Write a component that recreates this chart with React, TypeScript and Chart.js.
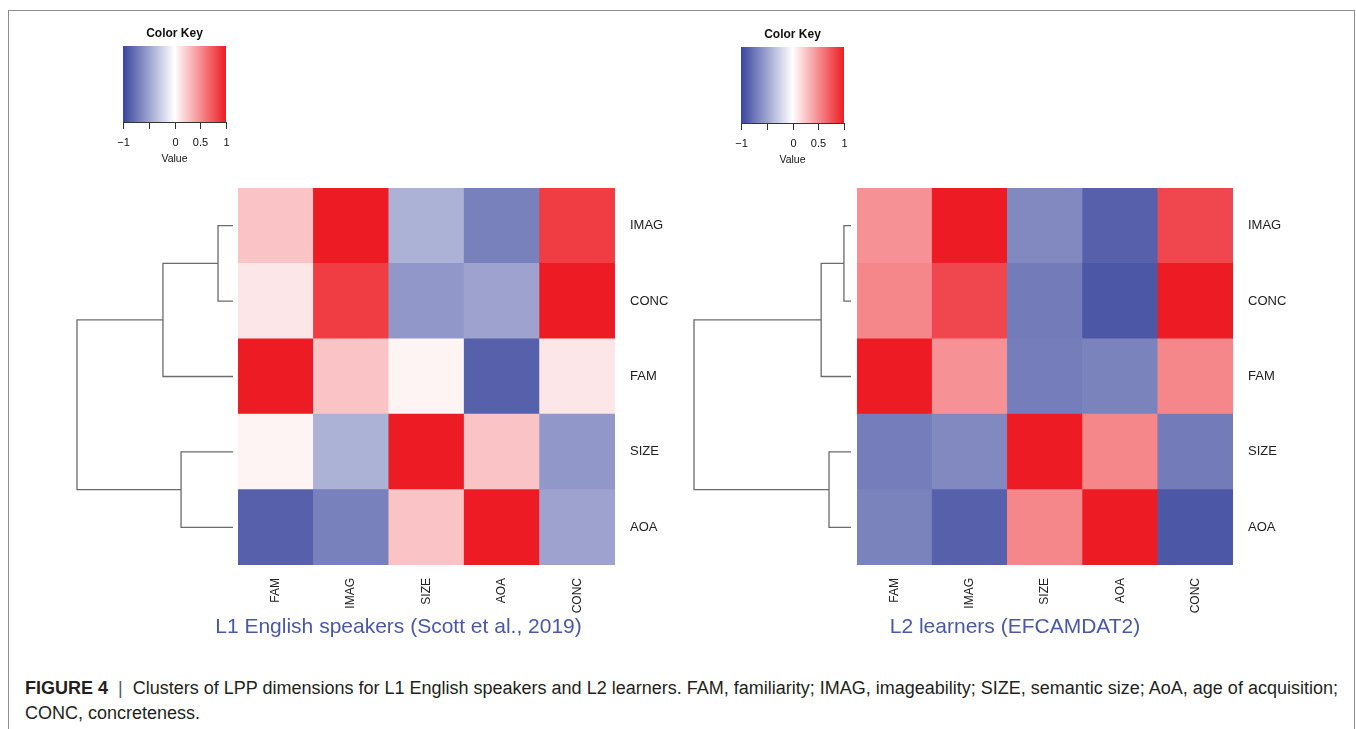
import React, { useEffect, useRef } from 'react';
import { Chart, registerables } from 'chart.js';
Chart.register(...registerables);

// ---------- data ----------
const columnLabels = ['FAM', 'IMAG', 'SIZE', 'AOA', 'CONC'];
const rowLabels = ['IMAG', 'CONC', 'FAM', 'SIZE', 'AOA']; // top to bottom

const l1Values = [
  [0.26, 1.0, -0.42, -0.68, 0.86], // IMAG
  [0.11, 0.86, -0.56, -0.5, 1.0], // CONC
  [1.0, 0.26, 0.05, -0.86, 0.11], // FAM
  [0.05, -0.42, 1.0, 0.26, -0.56], // SIZE
  [-0.86, -0.68, 0.26, 1.0, -0.5], // AOA
];
const l2Values = [
  [0.48, 1.0, -0.64, -0.86, 0.81], // IMAG
  [0.53, 0.81, -0.71, -0.91, 1.0], // CONC
  [1.0, 0.48, -0.7, -0.67, 0.53], // FAM
  [-0.7, -0.64, 1.0, 0.53, -0.71], // SIZE
  [-0.67, -0.86, 0.53, 1.0, -0.91], // AOA
];

// hclust-style merges: negative = leaf (1-based index into rowLabels), positive = earlier merge
const dendroMerges = [
  [-1, -2],
  [1, -3],
  [-4, -5],
  [2, 3],
];
const l1Heights = [0.096, 0.449, 0.333, 1.0];
const l2Heights = [0.045, 0.19, 0.14, 1.0];

const keyTicks = [-1, -0.5, 0, 0.5, 1];
const keyTickLabels = ['\u22121', '', '0', '0.5', '1'];

const l1Title = 'L1 English speakers (Scott et al., 2019)';
const l2Title = 'L2 learners (EFCAMDAT2)';

// ---------- styling ----------
const FONT = '"Liberation Sans", Arial, Helvetica, sans-serif';
const BLUE = [58, 70, 157];
const WHITE = [255, 255, 255];
const RED = [237, 28, 36];

function colorFor(v: number): string {
  const t = Math.max(-1, Math.min(1, v));
  const from = WHITE;
  const to = t < 0 ? BLUE : RED;
  const a = Math.abs(t);
  const c = from.map((f, i) => Math.round(f + (to[i] - f) * a));
  return `rgb(${c[0]},${c[1]},${c[2]})`;
}

type PanelCfg = {
  values: number[][];
  heights: number[];
  title: string;
  titleShift: number;
  width: number;
  height: number;
  padLeft: number;
  padTop: number;
  yAxisWidth: number;
  xAxisHeight: number;
  dendroGap: number;
  dendroWidth: number;
  keyBox: { x: number; y: number; w: number; h: number };
};

const panelPlugin = {
  id: 'panelExtras',
  afterDraw(chart: any, _args: any, opts: any) {
    const cfg: PanelCfg = opts.cfg;
    const ctx = chart.ctx;
    const area = chart.chartArea;
    const yScale = chart.scales.y;
    ctx.save();

    // dendrogram
    const leafX = area.left - cfg.dendroGap;
    const leafPts = rowLabels.map((_, i) => ({ x: leafX, y: yScale.getPixelForValue(rowLabels.length - 0.5 - i) }));
    const nodes: { x: number; y: number }[] = [];
    ctx.strokeStyle = '#6b6b6b';
    ctx.lineWidth = 1.3;
    dendroMerges.forEach((m, k) => {
      const pts = m.map((id) => (id < 0 ? leafPts[-id - 1] : nodes[id - 1]));
      const nx = leafX - cfg.heights[k] * cfg.dendroWidth;
      const ny = (pts[0].y + pts[1].y) / 2;
      ctx.beginPath();
      ctx.moveTo(pts[0].x, pts[0].y);
      ctx.lineTo(nx, pts[0].y);
      ctx.lineTo(nx, pts[1].y);
      ctx.lineTo(pts[1].x, pts[1].y);
      ctx.stroke();
      nodes.push({ x: nx, y: ny });
    });

    // colour key
    const kb = cfg.keyBox;
    const grad = ctx.createLinearGradient(kb.x, 0, kb.x + kb.w, 0);
    grad.addColorStop(0, colorFor(-1));
    grad.addColorStop(0.5, colorFor(0));
    grad.addColorStop(1, colorFor(1));
    ctx.fillStyle = grad;
    ctx.fillRect(kb.x, kb.y, kb.w, kb.h);
    ctx.fillStyle = '#111';
    ctx.font = `bold 12px ${FONT}`;
    ctx.textAlign = 'center';
    ctx.textBaseline = 'middle';
    ctx.fillText('Color Key', kb.x + kb.w / 2, kb.y - 12);
    ctx.strokeStyle = '#333';
    ctx.lineWidth = 1;
    ctx.beginPath();
    ctx.moveTo(kb.x, kb.y + kb.h + 0.5);
    ctx.lineTo(kb.x + kb.w, kb.y + kb.h + 0.5);
    ctx.stroke();
    ctx.font = `11px ${FONT}`;
    keyTicks.forEach((t, i) => {
      const x = Math.round(kb.x + ((t + 1) / 2) * kb.w) + 0.5;
      ctx.beginPath();
      ctx.moveTo(x, kb.y + kb.h);
      ctx.lineTo(x, kb.y + kb.h + 7);
      ctx.stroke();
      if (keyTickLabels[i]) ctx.fillText(keyTickLabels[i], x, kb.y + kb.h + 21);
    });
    ctx.font = `10.5px ${FONT}`;
    ctx.fillText('Value', kb.x + kb.w / 2, kb.y + kb.h + 37);

    // panel title
    ctx.fillStyle = '#4a58a8';
    ctx.font = `21px ${FONT}`;
    ctx.fillText(cfg.title, (area.left + area.right) / 2 + cfg.titleShift, area.bottom + 62);
    ctx.restore();
  },
};

function Panel({ cfg }: { cfg: PanelCfg }) {
  const ref = useRef<HTMLCanvasElement>(null);
  useEffect(() => {
    if (!ref.current) return;
    const n = rowLabels.length;
    const datasets = rowLabels
      .map((label, r) => ({
        label,
        data: columnLabels.map(() => 1),
        backgroundColor: cfg.values[r].map(colorFor),
        borderWidth: 0,
        barPercentage: 1,
        categoryPercentage: 1,
      }))
      .reverse();
    const chart = new Chart(ref.current, {
      type: 'bar',
      data: { labels: columnLabels, datasets },
      plugins: [panelPlugin],
      options: {
        animation: false,
        responsive: false,
        layout: { padding: { left: cfg.padLeft, top: cfg.padTop, right: 0, bottom: 0 } },
        plugins: {
          legend: { display: false },
          tooltip: { enabled: false },
          panelExtras: { cfg },
        } as any,
        scales: {
          x: {
            type: 'category',
            stacked: true,
            grid: { display: false, drawTicks: false },
            border: { display: false },
            ticks: {
              autoSkip: false,
              minRotation: 90,
              maxRotation: 90,
              padding: 13,
              color: '#222',
              font: { size: 12, family: FONT },
            },
            afterFit: (s: any) => {
              s.height = cfg.xAxisHeight;
            },
          },
          y: {
            type: 'linear',
            stacked: true,
            position: 'right',
            min: 0,
            max: n,
            grid: { display: false, drawTicks: false },
            border: { display: false },
            afterBuildTicks: (s: any) => {
              s.ticks = rowLabels.map((_, i) => ({ value: n - 0.5 - i }));
            },
            ticks: {
              padding: 15,
              color: '#222',
              font: { size: 13, family: FONT },
              callback: (v: any) => rowLabels[n - 1 - Math.floor(Number(v))],
            },
            afterFit: (s: any) => {
              s.width = cfg.yAxisWidth;
            },
          },
        } as any,
      },
    });
    return () => chart.destroy();
  }, [cfg]);
  return (
    <canvas
      ref={ref}
      width={cfg.width}
      height={cfg.height}
      style={{ width: cfg.width, height: cfg.height, display: 'block' }}
    />
  );
}

const leftCfg: PanelCfg = {
  values: l1Values,
  heights: l1Heights,
  title: l1Title,
  titleShift: -28,
  width: 680,
  height: 638,
  padLeft: 228,
  padTop: 176,
  yAxisWidth: 75,
  xAxisHeight: 85,
  dendroGap: 5,
  dendroWidth: 156,
  keyBox: { x: 113, y: 34, w: 103, h: 76 },
};
const rightCfg: PanelCfg = {
  values: l2Values,
  heights: l2Heights,
  title: l2Title,
  titleShift: -30,
  width: 662,
  height: 638,
  padLeft: 167,
  padTop: 176,
  yAxisWidth: 119,
  xAxisHeight: 85,
  dendroGap: 6,
  dendroWidth: 157,
  keyBox: { x: 51, y: 35, w: 103, h: 76 },
};

export default function App() {
  useEffect(() => {
    document.body.style.margin = '0';
    document.body.style.overflow = 'hidden';
  }, []);
  return (
    <div style={{ position: 'relative', width: 1356, height: 729, overflow: 'hidden', background: '#fff', fontFamily: FONT }}>
      <div
        style={{
          position: 'absolute',
          left: 8,
          top: 10,
          width: 1347,
          height: 800,
          boxSizing: 'border-box',
          border: '1px solid #8c8c8c',
        }}
      />
      <div style={{ position: 'absolute', left: 10, top: 12 }}>
        <Panel cfg={leftCfg} />
      </div>
      <div style={{ position: 'absolute', left: 690, top: 12 }}>
        <Panel cfg={rightCfg} />
      </div>
      <div
        style={{
          position: 'absolute',
          left: 25,
          top: 676,
          fontSize: 18,
          lineHeight: '25px',
          color: '#231f20',
          whiteSpace: 'nowrap',
        }}
      >
        <b>FIGURE 4</b>&nbsp; <span style={{ color: '#555' }}>|</span>&nbsp; Clusters of LPP dimensions for L1 English speakers and
        L2 learners. FAM, familiarity; IMAG, imageability; SIZE, semantic size; AoA, age of acquisition;
        <br />
        CONC, concreteness.
      </div>
    </div>
  );
}
